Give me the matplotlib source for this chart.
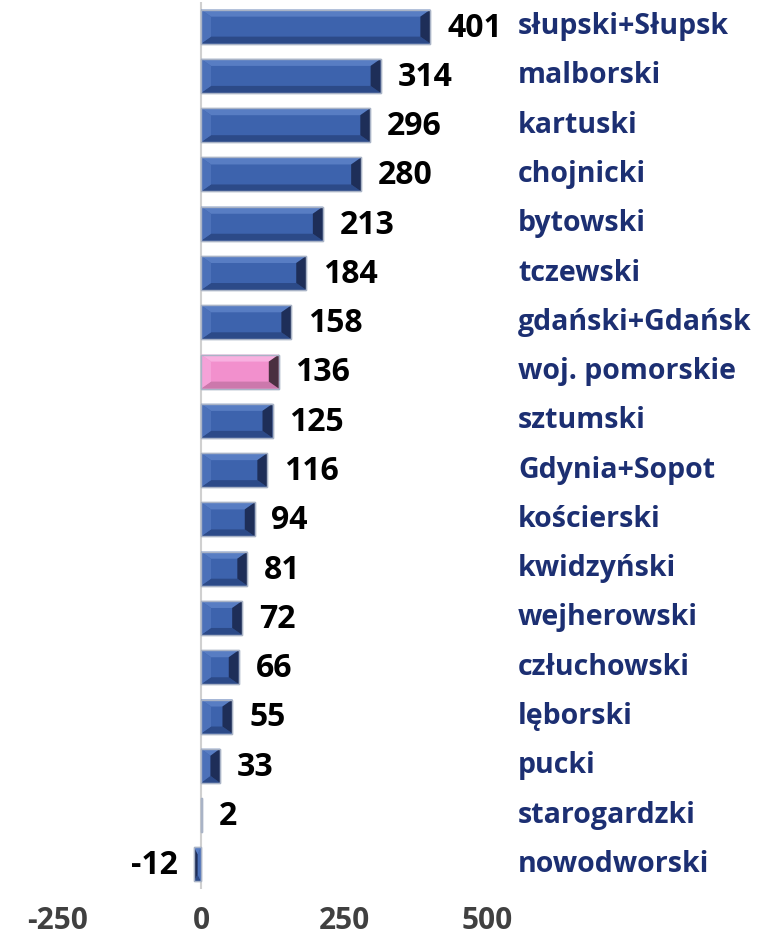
import matplotlib
matplotlib.use("Agg")
import matplotlib.pyplot as plt
from matplotlib.patches import Polygon
import matplotlib.transforms as mtransforms

categories = ["słupski+Słupsk", "malborski", "kartuski", "chojnicki", "bytowski",
              "tczewski", "gdański+Gdańsk", "woj. pomorskie", "sztumski",
              "Gdynia+Sopot", "kościerski", "kwidzyński", "wejherowski",
              "człuchowski", "lęborski", "pucki", "starogardzki", "nowodworski"]
values = [401, 314, 296, 280, 213, 184, 158, 136, 125, 116, 94, 81, 72, 66, 55, 33, 2, -12]
highlight = "woj. pomorskie"
xticks = [-250, 0, 250, 500]

plt.rcParams['font.family'] = ['Open Sans', 'DejaVu Sans']

W, H = 780, 942
fig = plt.figure(figsize=(W / 100, H / 100), dpi=100)
ax_l, ax_r, ax_t, ax_b = 58, 487, 2, 889
ax = fig.add_axes([ax_l / W, (H - ax_b) / H, (ax_r - ax_l) / W, (ax_b - ax_t) / H])

n = len(categories)
ypos = list(range(n))
bh = 0.69

palettes = {
    "blue": dict(main="#3D63AD", top="#587DC3", bot="#2C4A88", left="#4C71B9", right="#1E2E58", edge="#A9B3C6"),
    "pink": dict(main="#F290CD", top="#F8B0E0", bot="#CC78AC", left="#F5A2D8", right="#4A3040", edge="#A9B3C6"),
}

ax.set_xlim(-250, 500)
ax.set_ylim(n - 0.5, -0.5)

ux = 750 / (ax_r - ax_l)
uy = n / (ax_b - ax_t)

for y, v, c in zip(ypos, values, categories):
    p = palettes["pink" if c == highlight else "blue"]
    ax.barh(y, v, height=bh, color=p["main"], edgecolor=p["edge"], linewidth=1.0, zorder=2)
    s = 1 if v >= 0 else -1
    a = abs(v)
    bx = min(10 * ux, a / 2) * s
    by = min(7 * uy, bh / 2)
    top = y - bh / 2
    bot = y + bh / 2
    faces = [
        ([(0, top), (v, top), (v - bx, top + by), (bx, top + by)], p["top"]),
        ([(0, bot), (v, bot), (v - bx, bot - by), (bx, bot - by)], p["bot"]),
        ([(0, top), (bx, top + by), (bx, bot - by), (0, bot)], p["left"]),
        ([(v, top), (v - bx, top + by), (v - bx, bot - by), (v, bot)], p["right"]),
    ]
    for pts, col in faces:
        ax.add_patch(Polygon(pts, closed=True, facecolor=col, edgecolor="none", zorder=3))
    ax.add_patch(Polygon([(0, top), (v, top), (v, bot), (0, bot)], closed=True,
                         facecolor="none", edgecolor=p["edge"], linewidth=1.0, zorder=4))
    if v >= 0:
        ax.annotate(str(v), xy=(v, y), xytext=(12, -1), textcoords="offset points",
                    ha="left", va="center", fontsize=23, fontweight="bold", color="black")
    else:
        ax.annotate(str(v), xy=(v, y), xytext=(-12, -1), textcoords="offset points",
                    ha="right", va="center", fontsize=23, fontweight="bold", color="black")

trans = mtransforms.blended_transform_factory(ax.transAxes, ax.transData)
for y, c in zip(ypos, categories):
    ax.text((518 - ax_l) / (ax_r - ax_l), y, c, transform=trans, ha="left", va="center",
            fontsize=20.5, fontweight="bold", color="#1C2F72")

ax.axvline(0, color="#D0D0D0", linewidth=1.5, zorder=1)
for sp in ax.spines.values():
    sp.set_visible(False)
ax.set_yticks([])
ax.set_xticks(xticks)
ax.set_xticklabels([str(t) for t in xticks])
ax.tick_params(axis="x", length=0, pad=12, labelsize=21.5, labelcolor="#404040")
for lab in ax.get_xticklabels():
    lab.set_fontweight("bold")

fig.savefig("out.png", dpi=100)
